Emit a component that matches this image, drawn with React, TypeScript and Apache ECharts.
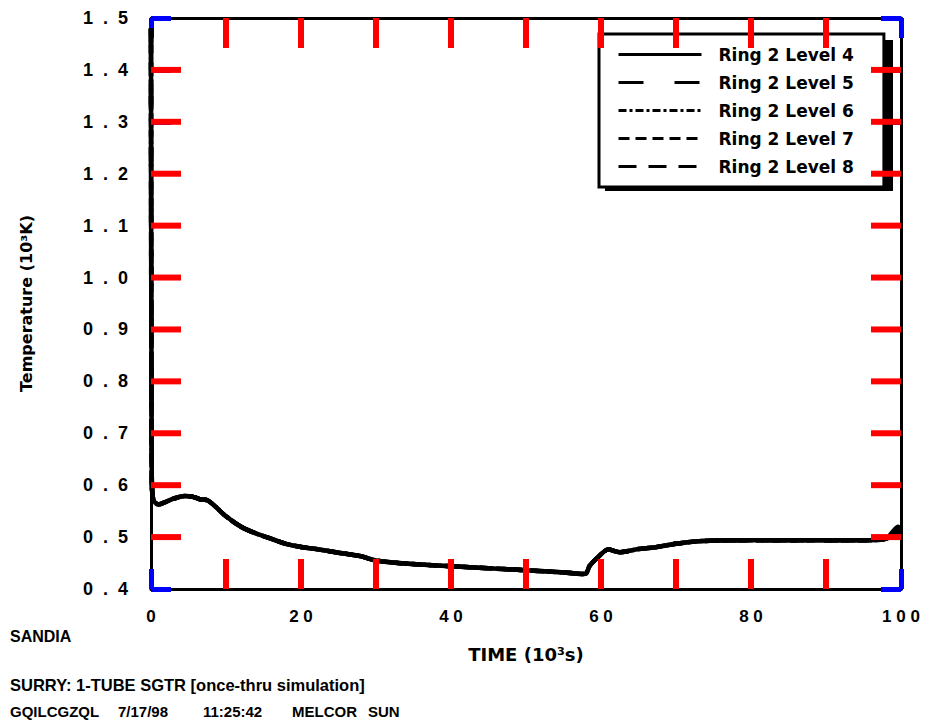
import React, { useEffect, useRef } from "react";
import * as echarts from "echarts";

// Time in 10^3 s
const timeKs = [0, 0.1, 0.3, 1, 2, 3, 4.5, 5.5, 6.5, 7.5, 8.5, 10, 12, 14, 16, 18, 20, 22, 25, 28, 30, 33, 36, 40, 45, 50, 55, 57.5, 58, 58.5, 59.5, 61, 62.5, 65, 67, 70, 73, 78, 85, 90, 96, 98, 99, 99.6, 100];
// Temperature in 10^3 K
const level4 = [1.48, 0.62, 0.572, 0.563, 0.568, 0.574, 0.579, 0.578, 0.573, 0.571, 0.56, 0.54, 0.52, 0.507, 0.497, 0.487, 0.481, 0.477, 0.47, 0.463, 0.455, 0.45, 0.447, 0.444, 0.44, 0.436, 0.432, 0.429, 0.43, 0.445, 0.46, 0.476, 0.471, 0.477, 0.48, 0.487, 0.492, 0.494, 0.494, 0.494, 0.494, 0.497, 0.512, 0.52, 0.515];
const level5 = [1.48, 0.62, 0.572, 0.563, 0.568, 0.574, 0.579, 0.578, 0.573, 0.571, 0.56, 0.54, 0.52, 0.507, 0.497, 0.487, 0.481, 0.477, 0.47, 0.463, 0.455, 0.45, 0.447, 0.444, 0.44, 0.436, 0.432, 0.429, 0.43, 0.445, 0.46, 0.476, 0.471, 0.477, 0.48, 0.487, 0.492, 0.494, 0.494, 0.494, 0.494, 0.497, 0.508, 0.515, 0.518];
const level6 = [1.48, 0.62, 0.572, 0.563, 0.568, 0.574, 0.579, 0.578, 0.573, 0.571, 0.56, 0.54, 0.52, 0.507, 0.497, 0.487, 0.481, 0.477, 0.47, 0.463, 0.455, 0.45, 0.447, 0.444, 0.44, 0.436, 0.432, 0.429, 0.43, 0.445, 0.46, 0.476, 0.471, 0.477, 0.48, 0.487, 0.492, 0.494, 0.494, 0.494, 0.494, 0.497, 0.505, 0.51, 0.512];
const level7 = [1.48, 0.62, 0.572, 0.563, 0.568, 0.574, 0.579, 0.578, 0.573, 0.571, 0.56, 0.54, 0.52, 0.507, 0.497, 0.487, 0.481, 0.477, 0.47, 0.463, 0.455, 0.45, 0.447, 0.444, 0.44, 0.436, 0.432, 0.429, 0.43, 0.445, 0.46, 0.476, 0.471, 0.477, 0.48, 0.487, 0.492, 0.494, 0.494, 0.494, 0.494, 0.497, 0.503, 0.507, 0.508];
const level8 = [1.48, 0.62, 0.572, 0.563, 0.568, 0.574, 0.579, 0.578, 0.573, 0.571, 0.56, 0.54, 0.52, 0.507, 0.497, 0.487, 0.481, 0.477, 0.47, 0.463, 0.455, 0.45, 0.447, 0.444, 0.44, 0.436, 0.432, 0.429, 0.43, 0.445, 0.46, 0.476, 0.471, 0.477, 0.48, 0.487, 0.492, 0.494, 0.494, 0.494, 0.494, 0.497, 0.502, 0.505, 0.506];

const seriesNames = ["Ring 2 Level 4", "Ring 2 Level 5", "Ring 2 Level 6", "Ring 2 Level 7", "Ring 2 Level 8"];
const seriesValues = [level4, level5, level6, level7, level8];
const dashTypes: any[] = ["solid", [25, 31], [8, 3, 3, 3], [11, 6], [18, 12]];

// Tick positions (inner ticks on all four sides)
const xTickValues = [10, 20, 30, 40, 50, 60, 70, 80, 90];
const yTickValues = [0.5, 0.6, 0.7, 0.8, 0.9, 1.0, 1.1, 1.2, 1.3, 1.4];
const X_MIN = 0, X_MAX = 100, Y_MIN = 0.4, Y_MAX = 1.5;

const xAxisTitle = "TIME (10³s)";
const yAxisTitle = "Temperature (10³K)";
const footerLines = ["SANDIA", "SURRY: 1-TUBE SGTR [once-thru simulation]"];
const footerStamp = ["GQILCGZQL", "7/17/98", "11:25:42", "MELCOR", "SUN"];

const NUM_FONT = "'Liberation Sans', Arial, sans-serif";
const TXT_FONT = "'DejaVu Sans', sans-serif";

const GRID = { left: 151, right: 31, top: 18, bottom: 139 };

export default function App() {
  const ref = useRef<HTMLDivElement>(null);
  useEffect(() => {
    if (!ref.current) return;
    const chart = echarts.init(ref.current, undefined, { renderer: "svg" });
    const mkLine = () => ({ show: true, onZero: false, lineStyle: { color: "#000", width: 3 } });
    const mkTick = () => ({ show: true, inside: true, length: 20, lineStyle: { color: "#0000ff", width: 5 } });

    const lineSeries = seriesNames
      .map((name, i) => ({
        name,
        type: "line",
        xAxisIndex: 0,
        yAxisIndex: 0,
        data: timeKs.map((t, j) => [t, seriesValues[i][j]]),
        showSymbol: false,
        symbol: "none",
        smooth: 0.3,
        lineStyle: { color: "#000", width: 4.5, type: dashTypes[i] },
        itemStyle: { color: "#000" },
        z: 10 - i,
      }))
      .reverse();

    const stampX = [10, 118, 203, 292, 368];

    const baseGraphics: any[] = [
      {
        type: "rect",
        shape: { x: 605, y: 40, width: 288, height: 151 },
        style: { fill: "#000" },
        z: 15,
      },
      {
        type: "text",
        x: 10,
        y: 636,
        style: { text: footerLines[0], fill: "#000", font: `bold 16px ${NUM_FONT}`, verticalAlign: "middle" },
      },
      {
        type: "text",
        x: 10,
        y: 685,
        style: { text: footerLines[1], fill: "#000", font: `bold 16.5px ${NUM_FONT}`, verticalAlign: "middle" },
      },
      ...footerStamp.map((s, i) => ({
        type: "text",
        x: stampX[i],
        y: 711,
        style: { text: s, fill: "#000", font: `bold 15px ${NUM_FONT}`, verticalAlign: "middle" },
      })),
    ];

    chart.setOption({
      animation: false,
      backgroundColor: "#fff",
      grid: { ...GRID, containLabel: false },
      xAxis: [
        {
          type: "value",
          min: X_MIN,
          max: X_MAX,
          interval: 10,
          position: "bottom",
          axisLine: mkLine(),
          axisTick: mkTick(),
          splitLine: { show: false },
          axisLabel: {
            margin: 19,
            color: "#000",
            fontFamily: NUM_FONT,
            fontWeight: "bold",
            fontSize: 17,
            formatter: (v: number) => (Math.round(v) % 20 === 0 ? String(Math.round(v)).split("").join(" ") : ""),
          },
          name: xAxisTitle,
          nameLocation: "middle",
          nameGap: 56,
          nameTextStyle: { color: "#000", fontFamily: TXT_FONT, fontWeight: "bold", fontSize: 18 },
        },
        {
          type: "value",
          min: X_MIN,
          max: X_MAX,
          interval: 10,
          position: "top",
          axisLine: mkLine(),
          axisTick: mkTick(),
          splitLine: { show: false },
          axisLabel: { show: false },
        },
      ],
      yAxis: [
        {
          type: "value",
          min: Y_MIN,
          max: Y_MAX,
          interval: 0.1,
          position: "left",
          axisLine: mkLine(),
          axisTick: mkTick(),
          splitLine: { show: false },
          axisLabel: {
            margin: 23,
            color: "#000",
            fontFamily: NUM_FONT,
            fontWeight: "bold",
            fontSize: 18,
            formatter: (v: number) => v.toFixed(1).split("").join("  "),
          },
          name: yAxisTitle,
          nameLocation: "middle",
          nameGap: 117,
          nameTextStyle: { color: "#000", fontFamily: TXT_FONT, fontWeight: "bold", fontSize: 16 },
        },
        {
          type: "value",
          min: Y_MIN,
          max: Y_MAX,
          interval: 0.1,
          position: "right",
          axisLine: mkLine(),
          axisTick: mkTick(),
          splitLine: { show: false },
          axisLabel: { show: false },
        },
      ],
      legend: {
        data: seriesNames,
        orient: "vertical",
        left: 599,
        top: 34,
        padding: [12, 30, 12, 18],
        itemWidth: 83,
        itemHeight: 14,
        itemGap: 11,
        backgroundColor: "#fff",
        borderColor: "#000",
        borderWidth: 3,
        lineStyle: { width: 3 },
        itemStyle: { color: "rgba(0,0,0,0)", borderColor: "rgba(0,0,0,0)", borderWidth: 0, opacity: 0 },
        textStyle: {
          color: "#000",
          fontFamily: TXT_FONT,
          fontWeight: "bold",
          fontSize: 17,
          padding: [0, 0, 0, 12],
        },
        z: 20,
      },
      graphic: baseGraphics,
      series: lineSeries,
    });

    // Inner tick marks, placed through the chart's own axis scales
    try {
      const TL = 30;
      const TW = 6;
      const finder = { gridIndex: 0 };
      const ticks: any[] = [];
      xTickValues.forEach((v) => {
        const b = chart.convertToPixel(finder, [v, Y_MIN]) as number[];
        const t = chart.convertToPixel(finder, [v, Y_MAX]) as number[];
        if (b && t) {
          ticks.push({ type: "rect", z: 30, shape: { x: b[0] - TW / 2, y: b[1] - TL, width: TW, height: TL }, style: { fill: "#ff0000" } });
          ticks.push({ type: "rect", z: 30, shape: { x: t[0] - TW / 2, y: t[1], width: TW, height: TL }, style: { fill: "#ff0000" } });
        }
      });
      yTickValues.forEach((v) => {
        const l = chart.convertToPixel(finder, [X_MIN, v]) as number[];
        const r = chart.convertToPixel(finder, [X_MAX, v]) as number[];
        if (l && r) {
          ticks.push({ type: "rect", z: 30, shape: { x: l[0], y: l[1] - TW / 2, width: TL, height: TW }, style: { fill: "#ff0000" } });
          ticks.push({ type: "rect", z: 30, shape: { x: r[0] - TL, y: r[1] - TW / 2, width: TL, height: TW }, style: { fill: "#ff0000" } });
        }
      });
      if (ticks.length) chart.setOption({ graphic: [...baseGraphics, ...ticks] });
    } catch (e) {
      // ignore
    }

    return () => chart.dispose();
  }, []);
  return <div ref={ref} style={{ position: "fixed", left: 0, top: 0, width: 932, height: 728 }} />;
}
